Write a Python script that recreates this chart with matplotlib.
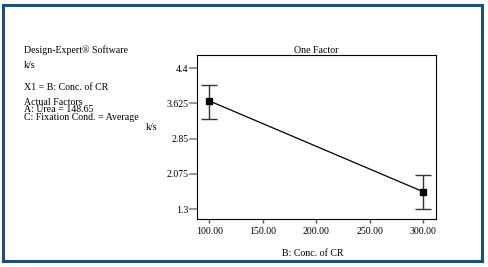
import numpy as np
import matplotlib.pyplot as plt
from matplotlib.patches import Rectangle

plt.rcParams.update({
    "font.family": "Liberation Serif",
    "font.size": 7.1,
})

# data
conc = [100.0, 300.0]
ks = [3.68, 1.68]
ks_low = [3.29, 1.30]
ks_high = [4.04, 2.05]
yticks = [1.3, 2.075, 2.85, 3.625, 4.4]
ytick_labels = ["1.3", "2.075", "2.85", "3.625", "4.4"]
xticks = [100, 150, 200, 250, 300]
xtick_labels = ["100.00", "150.00", "200.00", "250.00", "300.00"]

W, H = 488, 267
fig = plt.figure(figsize=(W / 100, H / 100), dpi=100)

# blue frame round the picture
fig.patches.append(Rectangle((3 / W, 1 - 261 / H), 478.5 / W, 256.5 / H,
                             transform=fig.transFigure, fill=False,
                             edgecolor="#1f4e79", linewidth=2.2))

ax = fig.add_axes([197 / W, 1 - 219 / H, 239 / W, 164 / H])
y = np.array(ks)
err = [y - np.array(ks_low), np.array(ks_high) - y]
ax.errorbar(conc, ks, yerr=err, color="black", linewidth=0.9,
            ecolor="#333333", elinewidth=1.0, capsize=5.5, capthick=1.0,
            marker="s", markersize=4, markerfacecolor="black")
ax.set_xlim(88.5, 312)
ax.set_ylim(1.08, 4.69)
ax.set_yticks(yticks)
ax.set_yticklabels(ytick_labels)
ax.set_xticks(xticks)
ax.set_xticklabels(xtick_labels)
ax.tick_params(axis="y", length=6, width=1.2, color="#888888", pad=0.3)
ax.tick_params(axis="x", length=3, width=1.0, color="#555555", pad=3)
for s in ax.spines.values():
    s.set_linewidth(0.8)

ax.set_title("One Factor", fontsize=7.1, pad=1.5)
fig.text(313 / W, 1 - 253 / H, "B: Conc. of CR", ha="center", va="center")
fig.text(152 / W, 1 - 127 / H, "k/s", ha="center", va="center")

x0 = 24 / W
fig.text(x0, 1 - 50.5 / H, "Design-Expert® Software", va="center")
fig.text(x0, 1 - 65 / H, "k/s", va="center")
fig.text(x0, 1 - 87.5 / H, "X1 = B: Conc. of CR", va="center")
fig.text(x0, 1 - 102.5 / H, "Actual Factors", va="center")
fig.text(x0, 1 - 110 / H, "A: Urea = 148.65", va="center")
fig.text(x0, 1 - 117.5 / H, "C: Fixation Cond. = Average", va="center")

fig.savefig("out.png", dpi=100)
